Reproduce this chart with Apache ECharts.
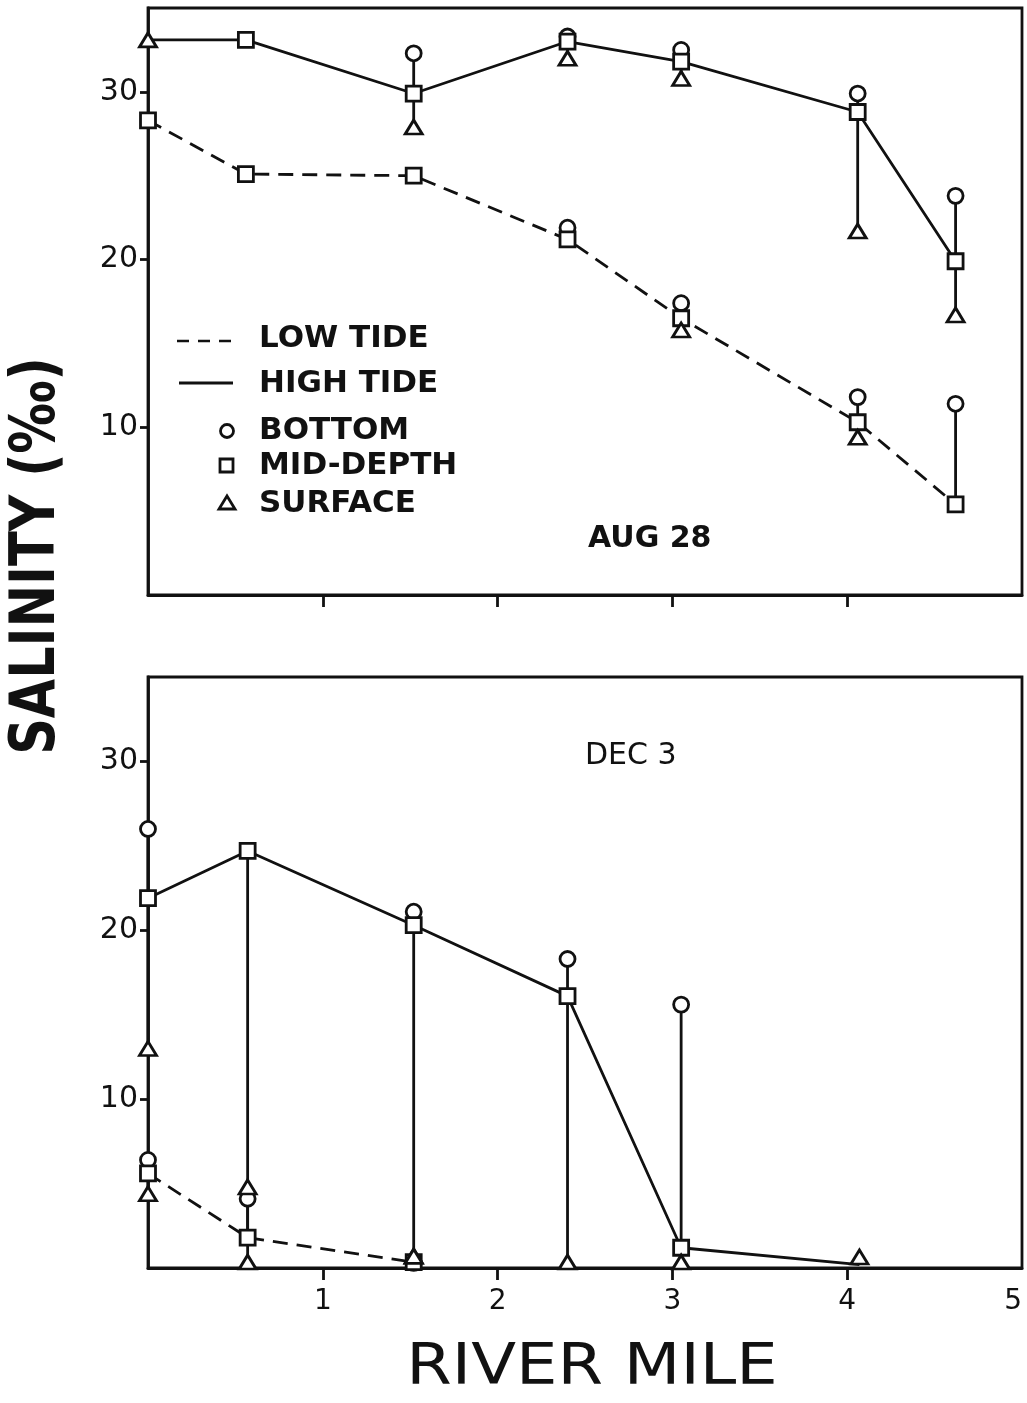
<!DOCTYPE html>
<html>
<head>
<meta charset="utf-8">
<script src="https://cdn.jsdelivr.net/npm/echarts@6/dist/echarts.min.js"></script>
<style>
  html, body { margin: 0; padding: 0; background: #fff; }
  #chart { width: 1027px; height: 1403px; }
</style>
</head>
<body>
<div id="chart"></div>
<script>
// river mile of each station
var augStations = [0, 0.56, 1.52, 2.40, 3.05, 4.06, 4.62];
var decStations = [0, 0.57, 1.52, 2.40, 3.05, 4.07];

// AUG 28 - salinity (per mil)
var augHighLine    = [33.1, 33.1, 29.9, 33.0, 31.8, 28.8, 19.9];
var augHighBottom  = [null, null, 32.3, 33.3, 32.5, 29.9, 23.8];
var augHighMid     = [null, 33.1, 29.9, 33.0, 31.8, 28.8, 19.9];
var augHighSurface = [33.1, null, 27.9, 32.0, 30.8, 21.7, 16.7];
var augLowLine     = [28.3, 25.1, 25.0, 21.2, 16.5, 10.3, 5.4];
var augLowBottom   = [null, null, null, 21.9, 17.4, 11.8, 11.4];
var augLowMid      = [28.3, 25.1, 25.0, 21.2, 16.5, 10.3, 5.4];
var augLowSurface  = [null, null, null, null, 15.8, 9.4, null];

// DEC 3
var decHighLine    = [21.9, 24.7, 20.3, 16.1, 1.2, 0.2];
var decHighBottom  = [26.0, null, 21.1, 18.3, 15.6, null];
var decHighMid     = [21.9, 24.7, 20.3, 16.1, 1.2, null];
var decHighSurface = [13.0, 0.35, 0.7, 0.35, 0.35, 0.65];
var decLowLine     = [5.6, 1.8, 0.35, null, null, null];
var decLowBottom   = [6.4, 4.1, 0.3, null, null, null];
var decLowMid      = [5.6, 1.8, 0.35, null, null, null];
var decLowSurface  = [4.4, 4.8, 0.7, null, null, null];

var yTicks = [10, 20, 30];
var xTicks = [1, 2, 3, 4];
var xLabels = [1, 2, 3, 4, 5];

var INK = '#111';

function toPairs(xs, vals) {
  var out = [];
  xs.forEach(function (x, i) {
    if (vals[i] != null) out.push([x, vals[i]]);
  });
  return out;
}

// vertical bar from lowest to highest reading at a station
function spans(xs, cols) {
  var out = [];
  xs.forEach(function (x, i) {
    var v = cols.map(function (c) { return c[i]; }).filter(function (d) { return d != null; });
    if (v.length > 1) out.push([x, Math.min.apply(null, v), Math.max.apply(null, v)]);
  });
  return out;
}

var markStyle = { color: '#fff', borderColor: INK, borderWidth: 2.8, opacity: 1 };

function tideSeries(idx, xs, line, bottom, mid, surface, dashed) {
  return [
    {
      type: 'line', xAxisIndex: idx, yAxisIndex: idx, z: 2,
      data: toPairs(xs, line), showSymbol: false, symbol: 'none',
      lineStyle: { color: INK, width: 2.8, type: dashed ? [15, 9] : 'solid' }
    },
    {
      type: 'custom', xAxisIndex: idx, yAxisIndex: idx, z: 3,
      data: spans(xs, [bottom, mid, surface]),
      encode: { x: 0, y: [1, 2] },
      renderItem: function (params, api) {
        var p1 = api.coord([api.value(0), api.value(1)]);
        var p2 = api.coord([api.value(0), api.value(2)]);
        return {
          type: 'line',
          shape: { x1: p1[0], y1: p1[1], x2: p2[0], y2: p2[1] },
          style: { stroke: INK, lineWidth: 2.8 }
        };
      }
    },
    {
      type: 'scatter', xAxisIndex: idx, yAxisIndex: idx, z: 4,
      data: toPairs(xs, bottom), symbol: 'circle', symbolSize: 15, itemStyle: markStyle
    },
    {
      type: 'scatter', xAxisIndex: idx, yAxisIndex: idx, z: 4,
      data: toPairs(xs, mid), symbol: 'rect', symbolSize: 15, itemStyle: markStyle
    },
    {
      type: 'scatter', xAxisIndex: idx, yAxisIndex: idx, z: 4,
      data: toPairs(xs, surface), symbol: 'triangle', symbolSize: [17, 14], itemStyle: markStyle
    }
  ];
}

function xAxisCfg(idx, showLabels) {
  return {
    type: 'value', gridIndex: idx, min: 0, max: 5, interval: 1,
    splitLine: { show: false },
    axisLine: { lineStyle: { color: INK, width: 2.8 } },
    axisTick: { length: 12, customValues: xTicks, lineStyle: { color: INK, width: 2.8 } },
    axisLabel: {
      show: showLabels, customValues: xLabels, margin: 20, alignMaxLabel: 'right',
      color: INK, fontSize: 28, fontFamily: 'DejaVu Sans'
    }
  };
}

function yAxisCfg(idx) {
  return {
    type: 'value', gridIndex: idx, min: 0, max: 35, interval: 10,
    splitLine: { show: false },
    axisLine: { lineStyle: { color: INK, width: 2.8 } },
    axisTick: { length: 8, customValues: yTicks, lineStyle: { color: INK, width: 2.8 } },
    axisLabel: {
      customValues: yTicks, margin: 10,
      color: INK, fontSize: 30, fontFamily: 'DejaVu Sans'
    }
  };
}

var txt = function (x, y, s, font, extra) {
  var el = {
    type: 'text', x: x, y: y, z: 10,
    style: { text: s, font: font, fill: INK, textAlign: 'left', textVerticalAlign: 'middle' }
  };
  return Object.assign(el, extra || {});
};

var legendFont = 'bold 31px "DejaVu Sans"';
var mark = { fill: '#fff', stroke: INK, lineWidth: 2.8 };

var graphics = [
  // legend (top panel)
  { type: 'line', z: 10, shape: { x1: 177, y1: 341, x2: 234, y2: 341 }, style: { stroke: INK, lineWidth: 2.5, lineDash: [12, 9] } },
  txt(259, 339, 'LOW TIDE', legendFont),
  { type: 'line', z: 10, shape: { x1: 179, y1: 383, x2: 233, y2: 383 }, style: { stroke: INK, lineWidth: 2.8 } },
  txt(259, 384, 'HIGH TIDE', legendFont),
  { type: 'circle', z: 10, shape: { cx: 227, cy: 431, r: 6.5 }, style: mark },
  txt(259, 431, 'BOTTOM', legendFont),
  { type: 'rect', z: 10, shape: { x: 220, y: 459, width: 13, height: 13 }, style: mark },
  txt(259, 466, 'MID-DEPTH', legendFont),
  { type: 'polygon', z: 10, shape: { points: [[227, 496], [235, 509], [219, 509]] }, style: mark },
  txt(259, 504, 'SURFACE', legendFont),
  // panel dates
  txt(588, 539, 'AUG 28', 'bold 30px "DejaVu Sans"'),
  txt(585, 756, 'DEC 3', '30px "DejaVu Sans"'),
  // axis titles
  {
    type: 'text', x: 38, y: 556, rotation: Math.PI / 2, scaleX: 0.82, z: 10,
    style: { text: 'SALINITY (‰)', font: 'bold 62px "DejaVu Sans"', fill: INK, textAlign: 'center', textVerticalAlign: 'middle' }
  },
  {
    type: 'text', x: 592, y: 1369, scaleX: 1.15, z: 10,
    style: { text: 'RIVER MILE', font: '57px "DejaVu Sans"', fill: INK, textAlign: 'center', textVerticalAlign: 'middle' }
  }
];

var chart = echarts.init(document.getElementById('chart'));
chart.setOption({
  animation: false,
  backgroundColor: '#fff',
  grid: [
    { left: 148, top: 8, width: 874, height: 587, outerBoundsMode: 'none', show: true, borderColor: INK, borderWidth: 2.8 },
    { left: 148, top: 677, width: 874, height: 591, outerBoundsMode: 'none', show: true, borderColor: INK, borderWidth: 2.8 }
  ],
  xAxis: [xAxisCfg(0, false), xAxisCfg(1, true)],
  yAxis: [yAxisCfg(0), yAxisCfg(1)],
  graphic: graphics,
  series: [].concat(
    tideSeries(0, augStations, augLowLine, augLowBottom, augLowMid, augLowSurface, true),
    tideSeries(0, augStations, augHighLine, augHighBottom, augHighMid, augHighSurface, false),
    tideSeries(1, decStations, decLowLine, decLowBottom, decLowMid, decLowSurface, true),
    tideSeries(1, decStations, decHighLine, decHighBottom, decHighMid, decHighSurface, false)
  )
});
</script>
</body>
</html>
